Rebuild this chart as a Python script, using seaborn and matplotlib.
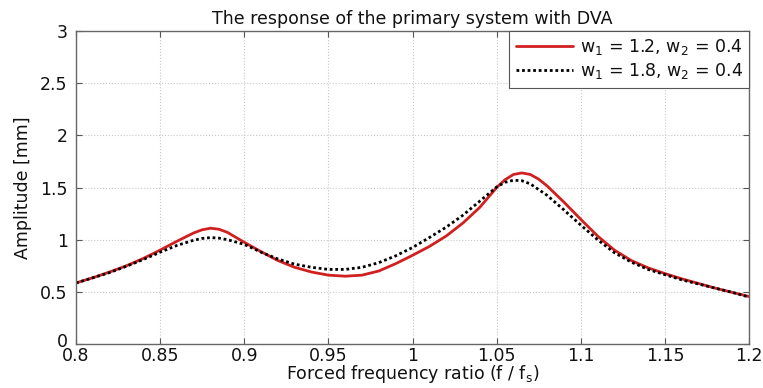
import pandas as pd
import matplotlib.pyplot as plt
import seaborn as sns
from matplotlib.transforms import ScaledTranslation

# frequency ratio f / fs
ratio_a = [0.80, 0.81, 0.82, 0.83, 0.84, 0.85, 0.86, 0.87, 0.875, 0.88, 0.885, 0.89, 0.90,
           0.91, 0.92, 0.93, 0.94, 0.95, 0.96, 0.97, 0.98, 0.99, 1.00, 1.01, 1.02,
           1.03, 1.04, 1.05, 1.055, 1.06, 1.065, 1.07, 1.075, 1.08, 1.09, 1.10, 1.11,
           1.12, 1.13, 1.14, 1.15, 1.16, 1.17, 1.18, 1.19, 1.20]
# w1 = 1.2, w2 = 0.4
amp_a = [0.585, 0.635, 0.69, 0.75, 0.82, 0.90, 0.985, 1.065, 1.095, 1.11, 1.10, 1.07, 0.975,
         0.885, 0.80, 0.735, 0.69, 0.66, 0.65, 0.66, 0.70, 0.77, 0.85, 0.935, 1.035,
         1.16, 1.31, 1.50, 1.575, 1.625, 1.64, 1.625, 1.58, 1.515, 1.36, 1.195, 1.035,
         0.90, 0.80, 0.73, 0.675, 0.625, 0.58, 0.535, 0.495, 0.455]

ratio_b = [0.80, 0.81, 0.82, 0.83, 0.84, 0.85, 0.86, 0.87, 0.875, 0.88, 0.885, 0.89, 0.90,
           0.91, 0.92, 0.93, 0.94, 0.95, 0.96, 0.97, 0.98, 0.99, 1.00, 1.01, 1.02,
           1.03, 1.04, 1.05, 1.055, 1.06, 1.065, 1.07, 1.08, 1.09, 1.10, 1.11,
           1.12, 1.13, 1.14, 1.15, 1.16, 1.17, 1.18, 1.19, 1.20]
# w1 = 1.8, w2 = 0.4
amp_b = [0.585, 0.635, 0.685, 0.745, 0.81, 0.88, 0.945, 0.995, 1.012, 1.02, 1.015, 1.0, 0.955,
         0.88, 0.815, 0.765, 0.735, 0.715, 0.715, 0.735, 0.78, 0.845, 0.925, 1.02, 1.12,
         1.235, 1.37, 1.505, 1.55, 1.57, 1.565, 1.535, 1.425, 1.285, 1.14, 1.0,
         0.875, 0.785, 0.715, 0.665, 0.615, 0.575, 0.535, 0.495, 0.45]

x_ticks = [0.8, 0.85, 0.9, 0.95, 1.0, 1.05, 1.1, 1.15, 1.2]
x_labels = ['0.8', '0.85', '0.9', '0.95', '1', '1.05', '1.1', '1.15', '1.2']
y_ticks = [0, 0.5, 1, 1.5, 2, 2.5, 3]
y_labels = ['0', '0.5', '1', '1.5', '2', '2.5', '3']

df_a = pd.DataFrame({'ratio': ratio_a, 'amp': amp_a})
df_b = pd.DataFrame({'ratio': ratio_b, 'amp': amp_b})

sns.set_style("whitegrid")
plt.rcParams['font.family'] = ['DejaVu Sans']
plt.rcParams['mathtext.default'] = 'regular'
plt.rcParams['text.color'] = '#111111'
plt.rcParams['xtick.labelcolor'] = '#111111'
plt.rcParams['ytick.labelcolor'] = '#111111'
plt.rcParams['axes.labelcolor'] = '#111111'

fs = 12.5

fig = plt.figure(figsize=(7.63, 3.88), dpi=100)
ax = fig.add_axes([0.0996, 0.1134, 0.8821, 0.8066])

sns.lineplot(data=df_a, x='ratio', y='amp', ax=ax, color='#d02020', lw=2.0,
             label='w$_1$ = 1.2, w$_2$ = 0.4')
sns.lineplot(data=df_b, x='ratio', y='amp', ax=ax, color='black', lw=2.0,
             linestyle=(0, (1, 1)), label='w$_1$ = 1.8, w$_2$ = 0.4')

ax.set_xlim(0.8, 1.2)
ax.set_ylim(0, 3)
ax.set_xticks(x_ticks)
ax.set_xticklabels(x_labels)
ax.set_yticks(y_ticks)
ax.set_yticklabels(y_labels)
ax.grid(True, color='#c8c8c8', linestyle=':', linewidth=0.8)
ax.tick_params(axis='both', direction='in', length=4, width=0.8, color='#555555',
               labelsize=fs, top=True, right=True, bottom=True, left=True)
ax.tick_params(axis='x', pad=2)
ax.tick_params(axis='y', pad=6)
for s in ax.spines.values():
    s.set_color('#666666')
    s.set_linewidth(1.0)

# the "0" sits a little above the corner, as in the original
lab0 = ax.get_yticklabels()[0]
lab0.set_transform(lab0.get_transform() + ScaledTranslation(0, 3 / 72, fig.dpi_scale_trans))

ax.set_title('The response of the primary system with DVA', fontsize=fs, pad=5)
ax.set_xlabel('Forced frequency ratio (f / f$_s$)', fontsize=fs, labelpad=-1)
ax.set_ylabel('Amplitude [mm]', fontsize=fs, labelpad=6)

leg = ax.legend(loc='upper right', borderaxespad=0, fontsize=fs, handlelength=3.3,
                fancybox=False, framealpha=1, edgecolor='#555555', handletextpad=0.4,
                labelspacing=0.25, borderpad=0.35)
leg.get_frame().set_linewidth(0.8)

plt.savefig('out.png', dpi=100)
